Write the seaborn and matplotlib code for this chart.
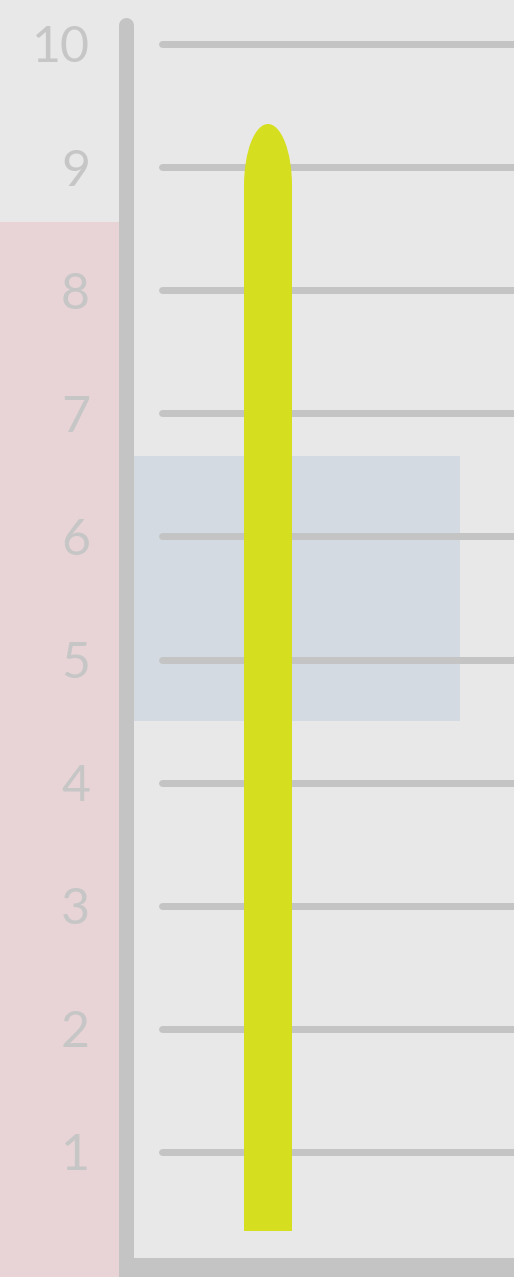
import seaborn as sns
import pandas as pd
import matplotlib.pyplot as plt
from matplotlib.patches import Ellipse

# data
ticks = [1, 2, 3, 4, 5, 6, 7, 8, 9, 10]
tick_labels = [str(t) for t in ticks]
bar_name = ['value']
bar_start = [0.36]
bar_value = [9.35]          # tip of the rounded top
cap_height = 0.5            # half height of the rounded cap
band_low = [4.5, 6.65]      # blue target band
band_left = [0.0, 8.55]     # pink band at the left

bg = '#e8e8e8'
gray = '#c4c4c4'
pink = '#e8d4d6'
blue = '#d3dae2'
yellow = '#d6df1f'

sns.set_style('white')
plt.rcParams['font.family'] = ['Lato', 'DejaVu Sans']

fig = plt.figure(figsize=(5.14, 12.77), dpi=100, facecolor=bg)
ax = fig.add_axes([0, 0, 1, 1], facecolor=bg)

df = pd.DataFrame(dict(item=bar_name,
                       height=[v - cap_height - s for v, s in zip(bar_value, bar_start)]))
sns.barplot(df, x='item', y='height', width=0.48, bottom=bar_start[0],
            color=yellow, saturation=1, errorbar=None, ax=ax, zorder=4,
            linewidth=0)

# rounded top of the bar
for i, v in enumerate(bar_value):
    ax.add_patch(Ellipse((i, v - cap_height), 0.48, 2 * cap_height,
                         facecolor=yellow, edgecolor='none', zorder=4))

ax.set_xlim(-2.68, 2.46)
ax.set_ylim(-2 / 123.1, 1275 / 123.1)

# bands
ax.axhspan(band_left[0] - 1, band_left[1], xmin=0, xmax=119 / 514,
           color=pink, lw=0, zorder=0.5)
ax.axhspan(band_low[0], band_low[1], xmin=134 / 514, xmax=460 / 514,
           color=blue, lw=0, zorder=0.5)

# grid lines
ax.hlines(ticks, -1.055, 2.6, colors=gray, linewidth=5,
          capstyle='round', zorder=2)

# axis lines
ax.axvline(-1.415, ymin=-0.1, ymax=(1277 - 24.5) / 1277, color=gray,
           linewidth=10.8, solid_capstyle='round', zorder=3)
ax.axhline(0.061, xmin=119 / 514, xmax=1.1, color=gray, linewidth=13.7,
           solid_capstyle='butt', zorder=3)

ax.set_yticks(ticks)
ax.set_yticklabels(tick_labels, fontsize=36, color='#c6c6c6',
                   fontweight='normal')
ax.tick_params(axis='y', length=0, pad=-90 * 72 / 100)
ax.set_xticks([])
ax.set_xlabel('')
ax.set_ylabel('')
for s in ax.spines.values():
    s.set_visible(False)
for lab in ax.get_yticklabels():
    lab.set_zorder(5)

fig.savefig('out.png', dpi=100, facecolor=bg)
